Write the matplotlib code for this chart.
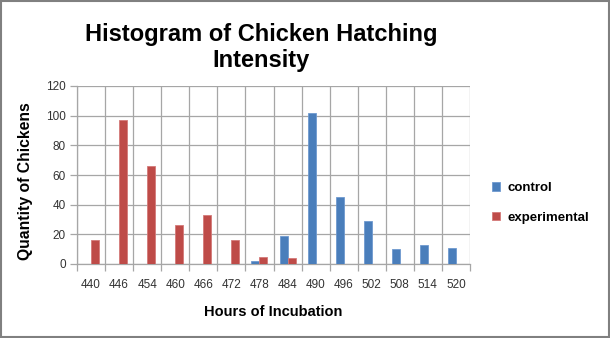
import numpy as np
import matplotlib
matplotlib.use("Agg")
import matplotlib.pyplot as plt
from matplotlib.patches import Rectangle

hours = ["440", "446", "454", "460", "466", "472", "478", "484",
         "490", "496", "502", "508", "514", "520"]
control = [0, 0, 0, 0, 0, 0, 2, 19, 102, 45, 29, 10, 13, 11]
experimental = [16, 97, 66, 26, 33, 16, 5, 4, 0, 0, 0, 0, 0, 0]

plt.rcParams['font.family'] = ['Liberation Sans', 'DejaVu Sans']

fig = plt.figure(figsize=(6.1, 3.38), dpi=100)
ax = fig.add_axes([77/610, 1-264/338, 393/610, 178/338])

x = np.arange(len(hours))
w = 0.285
ax.bar(x - w/2, control, w, color='#4a7ebb', edgecolor='#6f9ad0', linewidth=0.6,
       label='control', zorder=3)
ax.bar(x + w/2, experimental, w, color='#be4b48', edgecolor='#d47a78', linewidth=0.6,
       label='experimental', zorder=3)

ax.set_xlim(-0.5, len(hours) - 0.5)
ax.set_ylim(0, 120)
ax.set_yticks(range(0, 121, 20))
ax.set_xticks(x)
ax.set_xticklabels(hours)
ax.set_xticks(np.arange(-0.5, len(hours)), minor=True)

# gridlines: horizontal at ticks, vertical at category boundaries
ax.grid(axis='y', which='major', color='#a6a6a6', linewidth=0.9, zorder=0)
ax.grid(axis='x', which='minor', color='#a6a6a6', linewidth=0.9, zorder=0)
ax.tick_params(axis='x', which='major', length=0, pad=11, labelsize=8.5, labelcolor='#333333')
ax.tick_params(axis='x', which='minor', length=5, color='#a6a6a6', width=0.9)
ax.tick_params(axis='y', length=5, color='#a6a6a6', width=0.9, labelsize=8.5,
               labelcolor='#333333', pad=3)
for s in ['top', 'right']:
    ax.spines[s].set_visible(False)
for s in ['left', 'bottom']:
    ax.spines[s].set_color('#a6a6a6')
    ax.spines[s].set_linewidth(0.9)

ax.set_xlabel('Hours of Incubation', fontsize=10.5, fontweight='bold', labelpad=10)
ax.set_ylabel('Quantity of Chickens', fontsize=11.3, fontweight='bold')
ax.yaxis.set_label_coords(-0.112, 0.466)

# title, two lines
fig.text(261/610, 1-41/338, 'Histogram of Chicken Hatching', ha='center',
         va='baseline', fontsize=17, fontweight='bold')
fig.text(261/610, 1-67/338, 'Intensity', ha='center',
         va='baseline', fontsize=17, fontweight='bold')

leg = fig.legend(loc='center left', bbox_to_anchor=(480/610, 1-203/338), frameon=False,
                 prop={'weight': 'bold', 'size': 9.5}, handlelength=0.6, handleheight=0.6,
                 labelspacing=1.35, handletextpad=0.6)

fig.patches.append(Rectangle((0.001, 0.002), 0.997, 0.995, transform=fig.transFigure,
                             fill=False, edgecolor='#808080', linewidth=1.5))

fig.savefig('out.png', dpi=100)
